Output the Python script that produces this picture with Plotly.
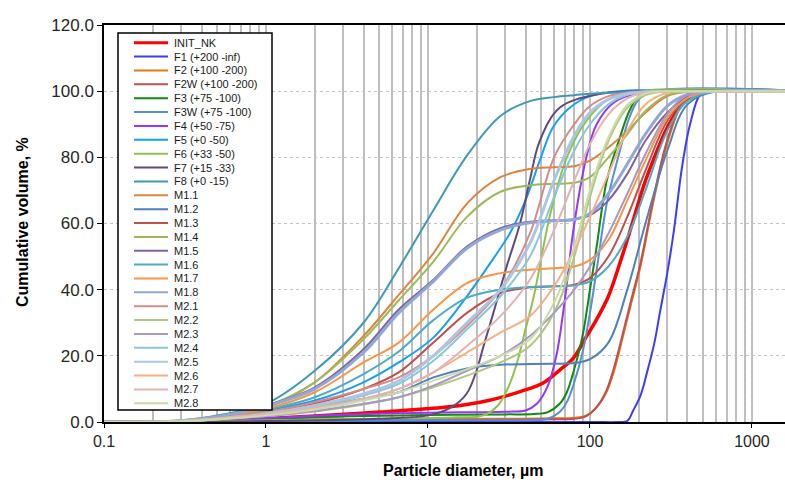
import plotly.graph_objects as go

# ---------------- data ----------------
NAMES = ["INIT_NK", "F1 (+200 -inf)", "F2 (+100 -200)", "F2W (+100 -200)", "F3 (+75 -100)",
         "F3W (+75 -100)", "F4 (+50 -75)", "F5 (+0 -50)", "F6 (+33 -50)", "F7 (+15 -33)",
         "F8 (+0 -15)", "M1.1", "M1.2", "M1.3", "M1.4", "M1.5", "M1.6", "M1.7", "M1.8",
         "M2.1", "M2.2", "M2.3", "M2.4", "M2.5", "M2.6", "M2.7", "M2.8"]

COLORS = ["#FF0000", "#3C3CFF", "#E27B12", "#C0504D", "#108A10",
          "#5690D0", "#9933FF", "#16A0F5", "#8FC24C", "#604A7B",
          "#3E9AB3", "#DC8440", "#4F81BD", "#C0504D", "#9BBB59", "#8064A2", "#4BACC6", "#F79646", "#8FA8D8",
          "#D58B89", "#AFC97A", "#A898C4", "#86C8DA", "#ACC5E3", "#F8B084", "#E3B3B2", "#C9DCAA"]

WIDTHS = [3.5] + [2] * 17 + [3] + [2] * 4 + [3] + [2] * 3

# Particle diameters (um) and cumulative volume (%) per sample
D_INIT = [0.1, 0.3, 0.5, 1, 2, 5, 13, 24, 37, 51, 65, 79, 95, 110, 130, 153, 185, 215, 250, 300, 370, 450, 600, 2000]
V_INIT = [0, 0, 0.3, 1, 1.8, 3, 4.5, 6.6, 9.2, 11.7, 15.7, 19.3, 25.8, 31, 38, 48, 61, 71.5, 80, 89, 96, 99.5, 100, 100]

D_F1 = [0.1, 100, 150, 170, 185, 205, 225, 250, 270, 300, 330, 370, 415, 480, 550, 2000]
V_F1 = [0, 0, 0, 0.3, 3.5, 8, 15, 24, 33, 45, 58, 77, 90, 99, 100, 100]

D_F2 = [0.1, 0.5, 1, 5, 30, 60, 80, 95, 110, 125, 140, 160, 180, 205, 245, 295, 360, 430, 600, 2000]
V_F2 = [0, 0.3, 0.6, 0.9, 1, 1.1, 1.3, 2, 4.5, 8.5, 15, 26, 36, 47, 66, 83, 95, 99.5, 100, 100]
V_F2W = [0, 0.2, 0.4, 0.6, 0.7, 0.8, 1, 1.8, 4.5, 9, 16, 27, 37, 48, 67, 84, 95.5, 99.6, 100, 100]

D_F3 = [0.1, 0.4, 1, 3, 10, 30, 45, 55, 65, 72, 80, 90, 100, 110, 127, 153, 175, 200, 250, 2000]
V_F3 = [0, 0, 0.8, 1.7, 2.1, 2.3, 2.4, 3, 5.5, 9, 16, 26, 40, 53, 73, 86, 94, 98.5, 100, 100]
V_F3W = [0, 0, 0.2, 0.4, 0.5, 0.5, 0.6, 1, 3, 6, 12, 21, 33, 46, 66, 82, 92, 97.5, 100, 100]

D_F4 = [0.1, 0.3, 1, 3, 10, 30, 40, 47, 55, 62, 70, 79, 95, 110, 140, 200, 300, 2000]
V_F4 = [0, 0.2, 1.2, 2.2, 2.8, 3.1, 3.5, 5.5, 11, 20, 37, 58, 80, 90, 96.5, 99.5, 100, 100]

D_F5 = [0.1, 0.2, 0.3, 0.5, 1, 2, 4, 6.6, 10.8, 17.4, 25, 32, 40, 49, 59, 75, 100, 150, 2000]
V_F5 = [0, 0, 0.4, 1.3, 3.5, 6.5, 12, 18, 25.5, 38, 49, 57, 67, 79, 89, 95, 98.5, 100, 100]

D_F6 = [0.1, 0.3, 1, 5, 15, 22, 27, 31, 35, 40, 45, 57, 72, 95, 130, 200, 2000]
V_F6 = [0, 0.2, 0.5, 1, 1.4, 2, 5, 10, 17, 28, 38, 63, 80, 91, 97.5, 100, 100]

D_F7 = [0.1, 0.3, 1, 5, 10, 14, 17.4, 20, 22, 25, 30.6, 37, 42.5, 49, 65, 110, 200, 2000]
V_F7 = [0, 0, 0.3, 1, 2, 4.5, 8.7, 15.7, 22.8, 32, 47, 60, 73, 85, 95, 99, 100, 100]

# shared diameter grid for F8 and the mixtures
D_M = [0.1, 0.2, 0.3, 0.5, 1, 2, 4, 6.6, 10.8, 17.4, 28, 42.6, 60, 80, 100, 130, 170, 220, 300, 400, 600, 2000]
V_F8 = [0, 0, 0.5, 2, 5.5, 15.5, 30, 46.5, 64, 80.5, 92.5, 97, 98.2, 98.8, 99.2, 99.5, 99.7, 99.9, 100, 100, 100, 100]
V_M11 = [0, 0, 0.3, 1.5, 4.3, 12, 26, 38.4, 51, 66, 74, 76.5, 77, 77.3, 79, 83, 88, 93.5, 98.5, 99.8, 100, 100]
V_M12 = [0, 0, 0.3, 1, 2.5, 4.5, 7, 9, 13.5, 16.2, 17.3, 17.5, 17.6, 17.8, 19, 24, 40, 60, 82, 96, 100, 100]
V_M13 = [0, 0, 0.3, 1, 2.8, 5.5, 10, 15, 24, 33, 39, 40.7, 41, 41.5, 43.5, 50, 62, 76, 91, 98, 100, 100]
V_M14 = [0, 0, 0.4, 1.7, 4.8, 12, 25, 36.8, 48.5, 62, 69.6, 71.5, 72, 72.3, 74, 80, 87, 94, 98.8, 99.8, 100, 100]
V_M15 = [0, 0, 0.4, 1.7, 5, 10.5, 22, 34, 43, 53, 58.6, 60.5, 61, 61.3, 62.5, 67, 75, 85, 93.5, 98.3, 100, 100]
V_M16 = [0, 0, 0.4, 1.4, 3.7, 7.5, 14.5, 21.3, 30.8, 37.5, 40, 40.8, 41, 41.3, 42.5, 47, 56, 70, 88, 97, 100, 100]
V_M17 = [0, 0, 0.4, 1.5, 4, 9, 18, 24, 34, 42, 45, 46, 46.5, 47, 49, 55, 67, 79, 92, 98, 100, 100]
V_M18 = [0, 0, 0.4, 1.6, 4.8, 10, 21, 33, 42.5, 52.5, 58, 60.2, 60.8, 61.2, 63, 69, 78, 87, 95.5, 99, 100, 100]
V_M21 = [0, 0, 0.3, 1.2, 3, 6, 10, 13.5, 20, 29, 40, 57, 80, 90, 95.5, 98.5, 99.6, 99.9, 100, 100, 100, 100]
V_M22 = [0, 0, 0.2, 0.8, 1.8, 3.2, 5.3, 7.5, 10.5, 14, 18, 23, 33, 50, 68, 85, 95, 98.8, 99.9, 100, 100, 100]
V_M23 = [0, 0, 0.2, 0.8, 1.8, 3.3, 5.5, 7.5, 11, 15.5, 20, 26, 33, 40, 47, 57, 69, 81, 93, 99, 100, 100]
V_M24 = [0, 0, 0.3, 1, 2.3, 4.5, 8, 11.5, 18.5, 28, 38, 50, 68, 82, 90, 96, 98.9, 99.8, 100, 100, 100, 100]
V_M25 = [0, 0, 0.3, 1, 2.5, 5, 8.5, 12.4, 20, 30, 40, 54, 73, 86.5, 93.5, 97.5, 99.2, 99.8, 100, 100, 100, 100]
V_M26 = [0, 0, 0.3, 1, 2.3, 4.2, 7, 10, 15, 21, 27, 32, 41, 52, 62, 75, 88, 96, 99.5, 100, 100, 100]
V_M27 = [0, 0, 0.2, 0.8, 2, 4, 7, 10, 15, 23, 32, 43, 58, 73, 84, 93, 97.8, 99.6, 100, 100, 100, 100]
V_M28 = [0, 0, 0.2, 0.8, 2, 3.8, 6.5, 9, 12.5, 16, 20, 25, 36, 53, 70, 86, 95.8, 99.3, 100, 100, 100, 100]

X_TICKS = [0.1, 1, 10, 100, 1000]
Y_TICKS = [0, 20, 40, 60, 80, 100, 120]

SERIES_X = [D_INIT, D_F1, D_F2, D_F2, D_F3, D_F3, D_F4, D_F5, D_F6, D_F7,
            D_M] + [D_M] * 16
SERIES_Y = [V_INIT, V_F1, V_F2, V_F2W, V_F3, V_F3W, V_F4, V_F5, V_F6, V_F7,
            V_F8, V_M11, V_M12, V_M13, V_M14, V_M15, V_M16, V_M17, V_M18,
            V_M21, V_M22, V_M23, V_M24, V_M25, V_M26, V_M27, V_M28]

# ---------------- figure ----------------
W, H = 785, 482
PL, PR, PT, PB = 104, 785, 25, 422
FONT = "Liberation Sans, Arial, sans-serif"

fig = go.Figure()
for name, xs, ys, col, w in zip(NAMES, SERIES_X, SERIES_Y, COLORS, WIDTHS):
    fig.add_trace(go.Scatter(x=xs, y=ys, name=name, mode="lines",
                             line=dict(color=col, width=w, shape="spline", smoothing=1.0),
                             showlegend=False))


def px_x(px):
    return (px - PL) / (PR - PL)


def px_y(py):
    return (PB - py) / (PB - PT)


shapes = [dict(type="rect", xref="paper", yref="paper",
               x0=px_x(118), x1=px_x(272), y0=px_y(410), y1=px_y(33),
               fillcolor="white", line=dict(color="black", width=1.5), layer="above")]
annotations = []
row0, step = 42.7, 13.87
for i, (name, col, w) in enumerate(zip(NAMES, COLORS, WIDTHS)):
    yy = px_y(row0 + step * i)
    shapes.append(dict(type="line", xref="paper", yref="paper",
                       x0=px_x(134), x1=px_x(168), y0=yy, y1=yy,
                       line=dict(color=col, width=3 if i == 0 else 2), layer="above"))
    annotations.append(dict(text=name, xref="paper", yref="paper", x=px_x(172), y=yy,
                            xanchor="left", yanchor="middle", showarrow=False,
                            font=dict(family=FONT, size=11, color="#1a1a1a")))

annotations.append(dict(text="<b>Particle diameter, µm</b>", xref="paper", yref="paper",
                        x=px_x(463), y=px_y(470), xanchor="center", yanchor="middle",
                        showarrow=False, font=dict(family=FONT, size=16, color="black")))
annotations.append(dict(text="<b>Cumulative volume, %</b>", xref="paper", yref="paper",
                        x=px_x(22), y=px_y(222), xanchor="center", yanchor="middle",
                        textangle=-90, showarrow=False,
                        font=dict(family=FONT, size=16, color="black")))

fig.update_layout(
    width=W, height=H,
    margin=dict(l=PL, r=W - PR, t=PT, b=H - PB),
    paper_bgcolor="white", plot_bgcolor="white",
    font=dict(family=FONT, color="black"),
    shapes=shapes, annotations=annotations,
    showlegend=False,
)
fig.update_xaxes(type="log", range=[-1, 3.204],
                 tickvals=X_TICKS, ticktext=[str(t) for t in X_TICKS],
                 tickfont=dict(size=16, color="#262626"),
                 showline=True, linecolor="black", linewidth=2, mirror=True,
                 ticks="outside", ticklen=4, tickcolor="black",
                 showgrid=True, gridcolor="#C4C4C4", gridwidth=1, griddash="dot",
                 minor=dict(dtick="D1", showgrid=True, gridcolor="#BEBEBE", gridwidth=2,
                            griddash="solid", ticks=""),
                 zeroline=False)
fig.update_yaxes(range=[0, 120], tickvals=Y_TICKS, tickformat=".1f",
                 tickfont=dict(size=17, color="#262626"),
                 showline=True, linecolor="black", linewidth=1.5,
                 ticks="outside", ticklen=5, tickcolor="black",
                 showgrid=True, gridcolor="#C4C4C4", gridwidth=1, griddash="dot",
                 zeroline=False)

fig.write_html("out.html")
